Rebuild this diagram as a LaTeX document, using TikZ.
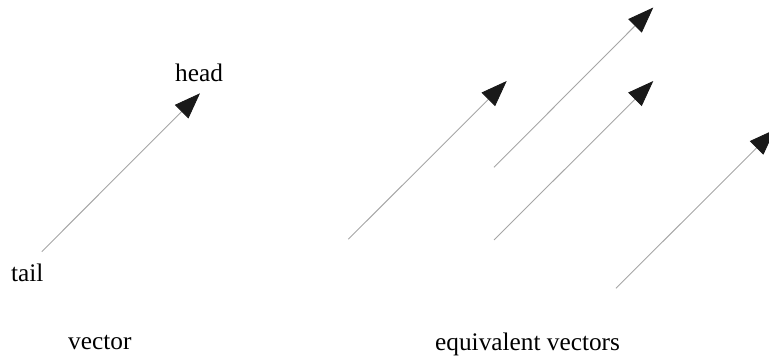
\documentclass[tikz,border=0pt]{standalone}
\usepackage{fontspec}
\setmainfont{Liberation Serif}
\usetikzlibrary{arrows.meta}

\begin{document}
\begin{tikzpicture}[x=1pt, y=-1pt,
  varr/.style={draw=black!35, line width=0.9pt,
               -{Triangle[length=26pt, width=19pt, color=black!90]}},
  lbl/.style={inner sep=0pt, anchor=base west, font=\fontsize{25.3}{29}\selectfont}
]
\path[use as bounding box, clip] (0,0) rectangle (769,358);

% Single vector
\coordinate (t0) at (41.7,251.7);
\coordinate (h0) at (200,93.3);
\node[lbl] (head) at (175,81.5) {head};
\node[lbl] (tail) at (11,282) {tail};
\draw[varr] (t0) -- (h0);

% Equivalent vectors
\coordinate (t1) at (348.3,239.3);
\coordinate (h1) at (506.7,81);
\coordinate (t2) at (494,167.3);
\coordinate (h2) at (653.3,7.5);
\coordinate (t3) at (494,240);
\coordinate (h3) at (653.3,81);
\coordinate (t4) at (616,288.3);
\coordinate (h4) at (775,129.5);
\draw[varr] (t1) -- (h1);
\draw[varr] (t2) -- (h2);
\draw[varr] (t3) -- (h3);
\draw[varr] (t4) -- (h4);

% Captions
\node[lbl] (vec) at (68,349) {vector};
\node[lbl] (equiv) at (435,350) {equivalent vectors};
\end{tikzpicture}
\end{document}
